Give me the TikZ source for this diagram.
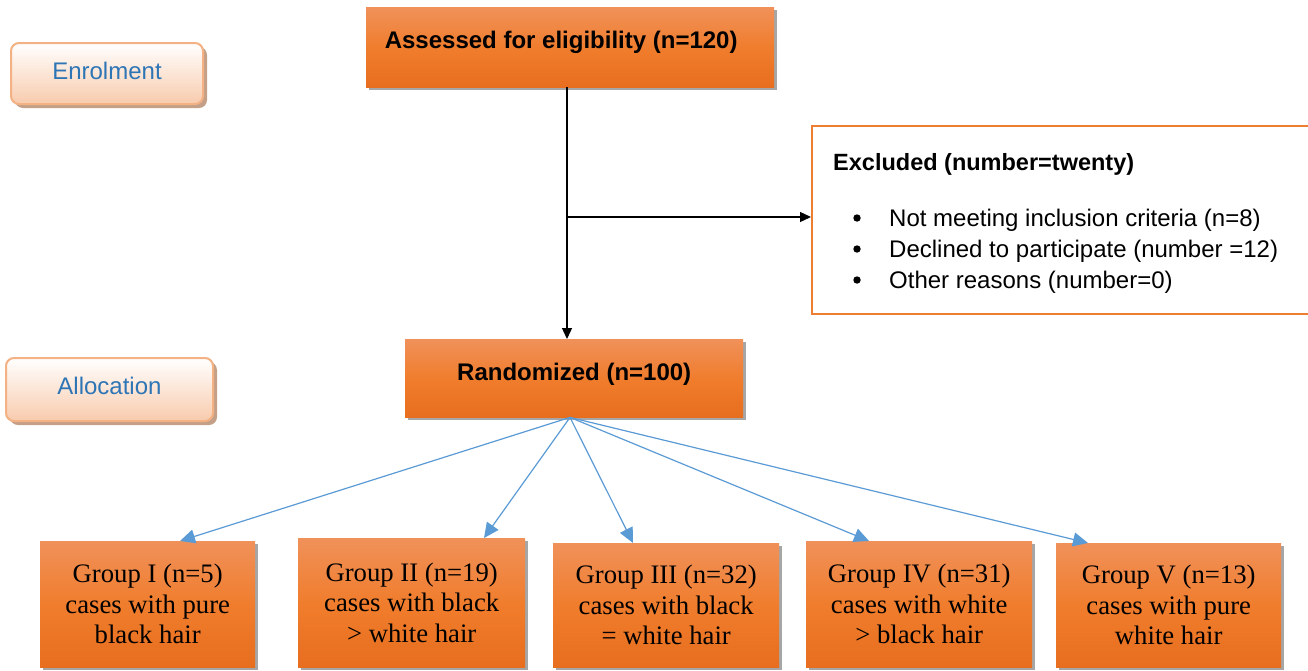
\documentclass[tikz,border=0pt]{standalone}
\usepackage{fontspec}
\setmainfont{Liberation Sans}
\newfontfamily\serifgrp{Liberation Serif}
\usetikzlibrary{arrows.meta,shadows,calc}
\definecolor{orT}{RGB}{240,145,90}
\definecolor{orM}{RGB}{240,125,45}
\definecolor{orB}{RGB}{231,110,30}
\definecolor{peachB}{RGB}{248,203,173}
\definecolor{peachD}{RGB}{244,177,131}
\definecolor{shadowbr}{RGB}{195,160,135}
\definecolor{lblue}{RGB}{46,117,182}
\definecolor{arrblue}{RGB}{91,155,213}
\definecolor{exorange}{RGB}{237,125,49}
\begin{document}
\begin{tikzpicture}[x=1pt,y=-1pt,
  orbox/.style={anchor=north west, inner sep=0pt, top color=orT, bottom color=orB, middle color=orM,
    drop shadow={opacity=0.35, shadow xshift=3pt, shadow yshift=-3pt, fill=black}},
  stagebox/.style={anchor=north west, inner sep=0pt, rounded corners=8pt, draw=peachD, line width=2pt,
    top color=white, bottom color=peachB, text=lblue, font=\fontsize{24}{28}\selectfont, text height=17pt,
    drop shadow={opacity=1, shadow xshift=4pt, shadow yshift=-4pt, fill=shadowbr}},
  grpbox/.style={orbox, align=center, font=\serifgrp\fontsize{26.7}{30.5}\selectfont},
  boldtxt/.style={font=\bfseries\fontsize{24}{28}\selectfont, text height=17pt},
  extxt/.style={anchor=base west, inner sep=0pt, font=\fontsize{24}{28}\selectfont},
  blk/.style={draw=black, line width=1.3pt, -{Triangle[length=11pt,width=10pt]}},
  blu/.style={draw=arrblue, line width=1.2pt, -{Triangle[length=15pt,width=14pt]}}
]
\useasboundingbox (0,0) rectangle (1308,670);
\fill[white] (0,0) rectangle (1308,670);

% stage labels
\node[stagebox, minimum width=192pt, minimum height=61pt, text depth=6pt] (enrol) at (10,42) {Enrolment};
\node[stagebox, minimum width=207pt, minimum height=63pt, text depth=8pt] (alloc) at (5,357) {Allocation};

% main boxes
\node[orbox, boldtxt, minimum width=408pt, minimum height=80pt, text depth=14pt] (assess) at (366,7) {Assessed for eligibility (n=120)\hspace*{18pt}};
\node[orbox, boldtxt, minimum width=338pt, minimum height=78pt, text depth=13pt] (rand) at (405,339) {Randomized (n=100)};

% excluded box
\node[anchor=north west, inner sep=0pt, draw=exorange, line width=1.8pt, fill=white, minimum width=520pt, minimum height=188pt] (ex) at (811,125) {};
\node[extxt, font=\bfseries\fontsize{23.5}{28}\selectfont] (ex0) at (833,170) {Excluded (number=twenty)};
\node[extxt] (ex1) at (889,226) {Not meeting inclusion criteria (n=8)};
\node[extxt] (ex2) at (889,257) {Declined to participate (number =12)};
\node[extxt] (ex3) at (889,288) {Other reasons (number=0)};
\foreach \i/\y in {1/218,2/249,3/280}
  \fill (857,\y) circle (3.7pt);

% groups
\node[grpbox, minimum width=215pt, minimum height=126pt] (g1) at (40,541) {Group I (n=5)\\cases with pure\\black hair};
\node[grpbox, minimum width=227pt, minimum height=129pt] (g2) at (298,538) {Group II (n=19)\\cases with black\\{>} white hair};
\node[grpbox, minimum width=226pt, minimum height=124pt] (g3) at (553,543) {Group III (n=32)\\cases with black\\= white hair};
\node[grpbox, minimum width=226pt, minimum height=126pt] (g4) at (806,541) {Group IV (n=31)\\cases with white\\{>} black hair};
\node[grpbox, minimum width=225pt, minimum height=124pt] (g5) at (1056,543) {Group V (n=13)\\cases with pure\\white hair};

% black connectors
\coordinate (top) at (567,0 |- assess.south);
\coordinate (br) at (567,217);
\draw[blk] (top) -- (top |- rand.north);
\draw[blk] (br) -- (ex.west |- br);

% blue connectors
\coordinate (rs) at (570,0 |- rand.south);
\draw[blu] (rs) -- (180,0 |- g1.north);
\draw[blu] (rs) -- (484,0 |- g2.north);
\draw[blu] (rs) -- (633,0 |- g3.north);
\draw[blu] (rs) -- (869,0 |- g4.north);
\draw[blu] (rs) -- (1088,0 |- g5.north);
\end{tikzpicture}
\end{document}
